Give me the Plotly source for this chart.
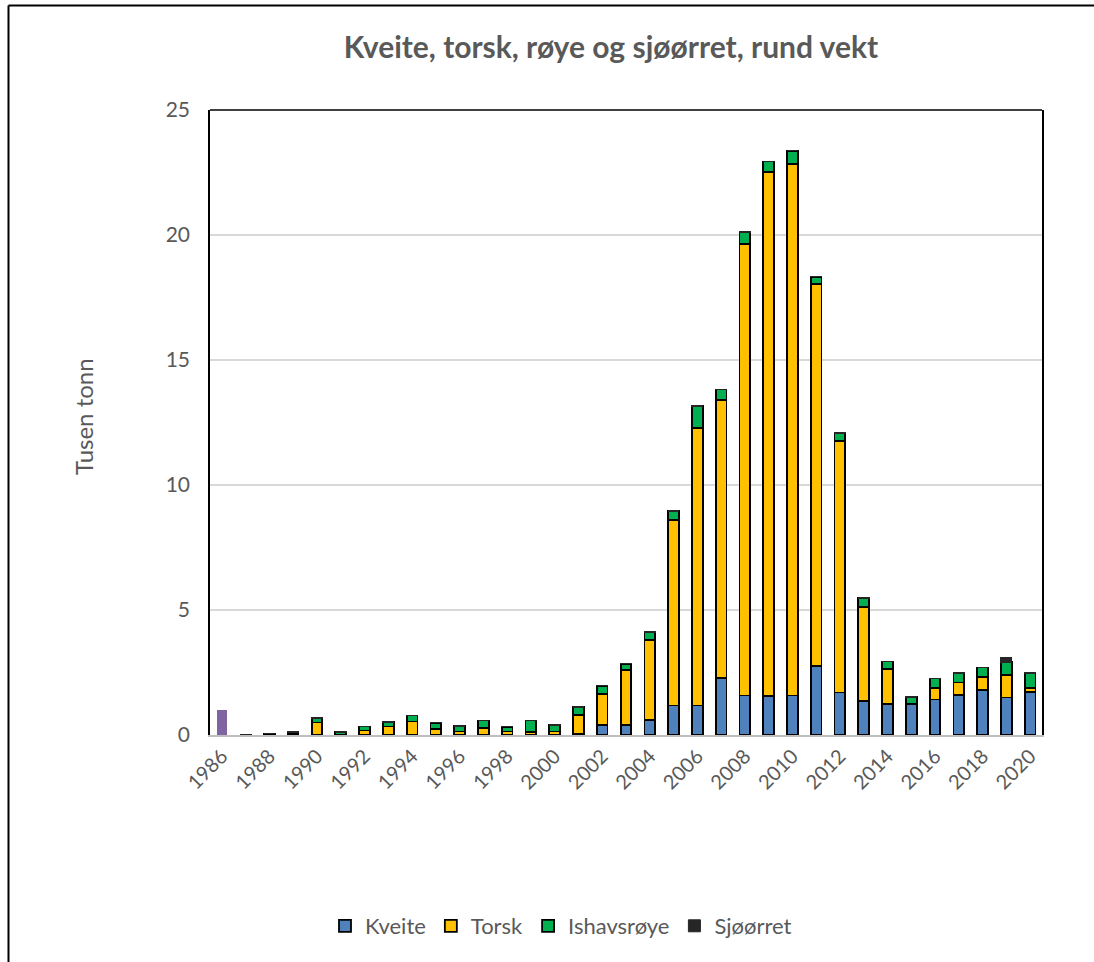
import plotly.graph_objects as go

years = list(range(1986, 2021))

kveite = [0, 0, 0, 0, 0, 0, 0, 0, 0, 0, 0, 0, 0, 0, 0,
          0.05, 0.40, 0.40, 0.61, 1.18, 1.18, 2.28, 1.58, 1.55, 1.58,
          2.75, 1.70, 1.37, 1.24, 1.24, 1.42, 1.60, 1.81, 1.50, 1.71]
torsk = [0, 0, 0.03, 0.08, 0.50, 0.02, 0.18, 0.34, 0.54, 0.25, 0.14, 0.27, 0.14, 0.11, 0.14,
         0.75, 1.25, 2.21, 3.18, 7.43, 11.10, 11.13, 18.07, 20.97, 21.25,
         15.30, 10.07, 3.76, 1.39, 0.00, 0.46, 0.50, 0.50, 0.89, 0.17]
ishavsroye = [0, 0, 0.02, 0.03, 0.17, 0.09, 0.16, 0.18, 0.24, 0.24, 0.22, 0.31, 0.19, 0.47, 0.26,
              0.32, 0.32, 0.24, 0.33, 0.34, 0.88, 0.41, 0.47, 0.42, 0.54,
              0.28, 0.31, 0.34, 0.31, 0.27, 0.38, 0.38, 0.39, 0.53, 0.58]
sjoorret = [0, 0.02, 0.03, 0.04, 0.02, 0.02, 0.02, 0.02, 0.02, 0.02, 0.02, 0.02, 0.02, 0.02, 0.02,
            0.02, 0.02, 0.02, 0.02, 0.02, 0.02, 0.02, 0.02, 0.02, 0.02,
            0.02, 0.02, 0.02, 0.02, 0.02, 0.02, 0.02, 0.02, 0.18, 0.03]
# stray purple bar shown only at 1986
purple_years = [1986]
purple_vals = [1.0]

tick_years = list(range(1986, 2021, 2))
tick_labels = [str(y) for y in tick_years]

FONT = "Lato"
GREY = "#595959"

fig = go.Figure()
outline = dict(color="black", width=1.8)
fig.add_trace(go.Bar(x=years, y=kveite, name="Kveite",
                     marker=dict(color="#4F81BD", line=outline)))
fig.add_trace(go.Bar(x=years, y=torsk, name="Torsk",
                     marker=dict(color="#FFC000", line=outline)))
fig.add_trace(go.Bar(x=years, y=ishavsroye, name="Ishavsrøye",
                     marker=dict(color="#00B050", line=outline)))
fig.add_trace(go.Bar(x=years, y=sjoorret, name="Sjøørret",
                     marker=dict(color="#262626", line=dict(color="#262626", width=1))))
fig.add_trace(go.Bar(x=purple_years, y=purple_vals, name="", showlegend=False,
                     marker=dict(color="#8064A2", line=dict(width=0))))

W, H = 1094, 962
L, R, T, B = 210, 1042, 110, 735
pw, ph = R - L, B - T


def px(p):
    return (p - L) / pw


def py(q):
    return (B - q) / ph


fig.update_layout(
    width=W, height=H,
    barmode="stack",
    bargap=0.55,
    plot_bgcolor="white",
    paper_bgcolor="white",
    margin=dict(l=L, r=W - R, t=T, b=H - B),
    font=dict(family=FONT, color=GREY, size=20),
    title=dict(text="<b>Kveite, torsk, røye og sjøørret, rund vekt</b>",
               x=611 / W, xanchor="center", y=1 - 47 / H, yanchor="middle",
               font=dict(family=FONT, size=30, color=GREY)),
    xaxis=dict(range=[1985.5, 2020.5], tickvals=tick_years, ticktext=tick_labels,
               tickangle=-45, showgrid=False, showline=True, linecolor="#BFBFBF",
               linewidth=1.5, ticks="", tickfont=dict(size=20, color=GREY)),
    yaxis=dict(range=[0, 25], dtick=5, showgrid=True, gridcolor="#D9D9D9", gridwidth=1.5,
               showline=True, linecolor="black", linewidth=1.5, mirror=True,
               ticks="", zeroline=False, ticklabelstandoff=14,
               tickfont=dict(size=21, color=GREY)),
    legend=dict(orientation="h", x=px(561), xanchor="center", y=py(926), yanchor="middle",
                font=dict(size=22, color=GREY), traceorder="normal",
                itemwidth=30),
    showlegend=True,
)

fig.add_annotation(text="Tusen tonn", textangle=-90, showarrow=False,
                   xref="paper", yref="paper", x=px(83), y=py(416),
                   xanchor="center", yanchor="middle",
                   font=dict(family=FONT, size=24, color=GREY))

# plot-area top frame line
fig.add_shape(type="line", xref="paper", yref="paper", x0=0, x1=1, y0=1, y1=1,
              line=dict(color="black", width=1.5))
# outer chart border (top and left visible)
fig.add_shape(type="line", xref="paper", yref="paper", x0=px(8.5), x1=px(1094), y0=py(5.5), y1=py(5.5),
              line=dict(color="black", width=2))
fig.add_shape(type="line", xref="paper", yref="paper", x0=px(8.5), x1=px(8.5), y0=py(5.5), y1=py(962),
              line=dict(color="black", width=2))

fig.write_html("out.html", config={"displayModeBar": False},
               post_script="document.body.style.margin='0px';")
